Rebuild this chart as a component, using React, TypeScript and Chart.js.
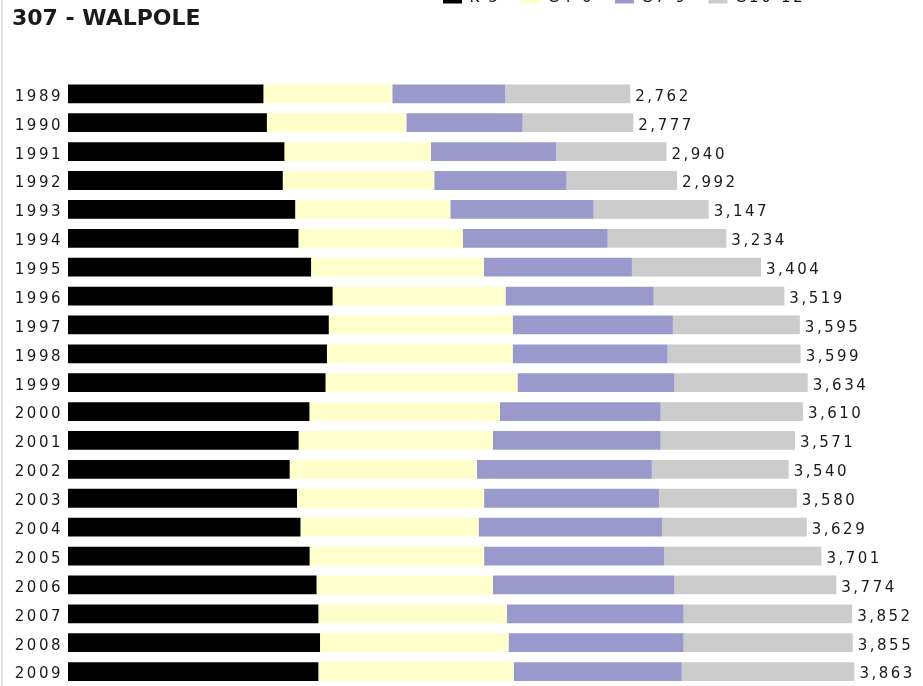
import React, { useEffect, useRef } from 'react';
import { Chart, registerables } from 'chart.js';

Chart.register(...registerables);

const TITLE = '307 - WALPOLE';
const years = ['1989', '1990', '1991', '1992', '1993', '1994', '1995', '1996', '1997', '1998', '1999', '2000', '2001', '2002', '2003', '2004', '2005', '2006', '2007', '2008', '2009'];
const seriesLabels = ['K-3', 'G4-6', 'G7-9', 'G10-12'];
const seriesColors = ['#000000', '#FFFFCC', '#9999CC', '#CCCCCC'];
const k3 = [960, 977, 1063, 1055, 1116, 1132, 1194, 1300, 1281, 1272, 1265, 1186, 1133, 1089, 1125, 1142, 1187, 1221, 1230, 1238, 1230];
const g46 = [633, 685, 720, 744, 762, 807, 849, 849, 903, 912, 943, 936, 954, 920, 919, 875, 857, 866, 926, 926, 960];
const g79 = [555, 571, 615, 650, 704, 712, 727, 728, 787, 761, 771, 789, 824, 859, 859, 902, 885, 892, 868, 860, 825];
const g1012 = [614, 544, 542, 543, 565, 583, 634, 642, 624, 654, 655, 699, 660, 672, 677, 710, 772, 795, 828, 831, 848];
const totals = [2762, 2777, 2940, 2992, 3147, 3234, 3404, 3519, 3595, 3599, 3634, 3610, 3571, 3540, 3580, 3629, 3701, 3774, 3852, 3855, 3863];

const FONT = 'DejaVu Sans';
const FONT_SIZE = 15;
const SPACING = '2.5px';
const LEGEND_X = 443;
const LEGEND_PAD = 21;

const spacingPlugin = {
  id: 'spacingPlugin',
  beforeLayout(chart: any) {
    chart.ctx.letterSpacing = SPACING;
  },
  beforeDraw(chart: any) {
    chart.ctx.letterSpacing = SPACING;
    const lg = chart.legend;
    if (lg) {
      lg.left = LEGEND_X - LEGEND_PAD;
    }
    const tb = chart.titleBlock;
    if (tb && !tb._noSpacing) {
      const orig = tb.draw.bind(tb);
      tb.draw = (area: any) => {
        const c = chart.ctx;
        const prev = c.letterSpacing;
        c.letterSpacing = '0px';
        orig(area);
        c.letterSpacing = prev;
      };
      tb._noSpacing = true;
    }
  },
  afterDatasetsDraw(chart: any) {
    const ctx = chart.ctx;
    const meta = chart.getDatasetMeta(chart.data.datasets.length - 1);
    ctx.save();
    ctx.letterSpacing = SPACING;
    ctx.font = `${FONT_SIZE}px "${FONT}"`;
    ctx.fillStyle = '#1a1a1a';
    ctx.textAlign = 'left';
    ctx.textBaseline = 'middle';
    meta.data.forEach((el: any, i: number) => {
      ctx.fillText(totals[i].toLocaleString('en-US'), el.x + 5, el.y + 3);
    });
    ctx.restore();
  },
};

export default function App() {
  const ref = useRef<HTMLCanvasElement | null>(null);

  useEffect(() => {
    if (!ref.current) return;
    const seriesData = [k3, g46, g79, g1012];
    const chart = new Chart(ref.current, {
      type: 'bar',
      data: {
        labels: years,
        datasets: seriesLabels.map((label, i) => ({
          label,
          data: seriesData[i],
          backgroundColor: seriesColors[i],
          borderWidth: 0,
          categoryPercentage: 1,
          barPercentage: 0.65,
        })),
      },
      options: {
        indexAxis: 'y',
        animation: false,
        responsive: false,
        layout: { padding: { left: 12, right: 0, top: 0, bottom: 0 } },
        scales: {
          x: {
            stacked: true,
            display: false,
            min: 0,
            max: 4200,
          },
          y: {
            stacked: true,
            grid: { display: false, drawTicks: false },
            border: { display: false },
            ticks: {
              font: { family: FONT, size: FONT_SIZE },
              color: '#1a1a1a',
              padding: 5,
              labelOffset: 3,
              autoSkip: false,
            },
            afterFit: (s: any) => {
              s.width = 56;
              s.paddingTop = 0;
              s.paddingBottom = 0;
            },
          },
        },
        plugins: {
          legend: {
            position: 'top',
            align: 'start',
            weight: 3000,
            labels: {
              boxWidth: 19,
              boxHeight: 10,
              padding: LEGEND_PAD,
              color: '#1a1a1a',
              font: { family: FONT, size: FONT_SIZE },
            },
          },
          title: {
            display: true,
            text: TITLE,
            align: 'start',
            weight: 500,
            color: '#1a1a1a',
            font: { family: FONT, size: 22, weight: 'bold' },
            padding: { top: -10, bottom: 47 },
          },
          tooltip: { enabled: false },
        },
      },
      plugins: [spacingPlugin],
    });
    return () => chart.destroy();
  }, []);

  return (
    <>
      <div style={{ position: 'absolute', left: 0, top: -30, width: 923, height: 716 }}>
        <canvas ref={ref} width={923} height={716} style={{ display: 'block' }} />
      </div>
      <div style={{ position: 'absolute', left: 1, top: 0, width: 2, height: 686, background: '#e4e4e4' }} />
    </>
  );
}
